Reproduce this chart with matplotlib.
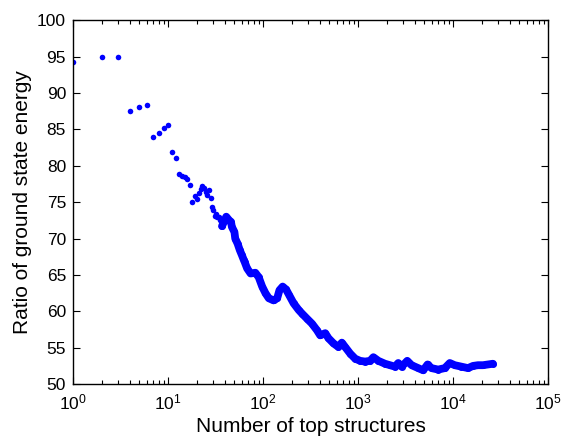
import matplotlib
matplotlib.use("Agg")
import matplotlib.pyplot as plt
from matplotlib.ticker import LogLocator, FixedLocator, NullFormatter

plt.rcParams['font.family'] = ['Liberation Sans', 'DejaVu Sans']

# sparse individual points (n = number of top structures)
n_sparse = [1, 2, 3, 4, 5, 6, 7, 8, 9, 10, 11, 12, 13, 14, 15, 16, 17, 18, 19,
            20, 21, 22, 23, 24, 25, 26, 27, 28, 29, 30, 31, 32, 33, 34, 35, 36]
r_sparse = [94.2, 95.0, 94.9, 87.5, 88.1, 88.3, 83.9, 84.5, 85.2, 85.6, 81.9,
            81.1, 78.8, 78.6, 78.4, 78.2, 77.3, 75.0, 75.9, 75.4, 76.3, 76.8,
            77.2, 77.0, 76.4, 76.0, 76.6, 75.5, 74.4, 73.9, 73.1, 73.4, 73.0,
            73.0, 72.5, 71.7]

# dense part of the curve
n_dense = [37, 41, 44, 46, 47, 50, 51, 54, 57, 60, 63, 64, 68, 74, 83, 90, 98,
           106, 115, 129, 141, 149, 161, 175, 189, 210, 237, 257, 290, 328, 370,
           400, 452, 489, 552, 623, 676, 732, 827, 933, 1052, 1187, 1340, 1452,
           1638, 1925, 2171, 2450, 2654, 2883, 3300, 3670, 4306, 4858, 5400,
           5946, 6978, 8202, 9254, 10440, 12280, 14390, 16240, 18330, 20690,
           23340, 26350]
r_dense = [71.7, 73.0, 72.5, 72.3, 71.6, 70.9, 70.0, 69.3, 68.4, 67.7, 67.0,
           66.8, 65.9, 65.2, 65.3, 64.7, 63.4, 62.5, 61.8, 61.5, 61.8, 62.9,
           63.4, 63.0, 62.2, 61.1, 60.2, 59.7, 59.0, 58.3, 57.4, 56.7, 57.0,
           56.3, 55.6, 55.1, 55.7, 55.1, 54.2, 53.5, 53.2, 53.1, 53.2, 53.7,
           53.2, 52.8, 52.6, 52.4, 52.9, 52.4, 53.2, 52.6, 52.2, 51.9, 52.7,
           52.2, 52.0, 52.2, 52.9, 52.6, 52.4, 52.2, 52.5, 52.6, 52.6, 52.7,
           52.8]

blue = '#0000ff'
fig = plt.figure(figsize=(5.62, 4.38), dpi=100)
ax = fig.add_axes([0.13, 0.123, 0.845, 0.831])

ax.plot(n_dense, r_dense, '-', color=blue, lw=5.6, solid_capstyle='round',
        solid_joinstyle='round')
ax.plot(n_dense, r_dense, 'o', color=blue, ms=5.0, mec='none')
ax.plot(n_sparse, r_sparse, 'o', color=blue, ms=4.0, mec='none')

ax.set_xscale('log')
ax.set_xlim(1, 1e5)
ax.set_ylim(50, 100)
ax.yaxis.set_major_locator(FixedLocator(list(range(50, 101, 5))))
ax.xaxis.set_major_locator(LogLocator(base=10, numticks=10))
ax.xaxis.set_minor_locator(LogLocator(base=10, subs=range(2, 10), numticks=20))
ax.xaxis.set_minor_formatter(NullFormatter())

ax.tick_params(which='both', direction='in', top=True, right=True,
               labelsize=12.5, width=0.8)
ax.tick_params(which='major', length=5)
ax.tick_params(which='minor', length=3)
ax.tick_params(axis='x', which='major', pad=6)
ax.tick_params(axis='y', which='major', pad=5)
for s in ax.spines.values():
    s.set_linewidth(1.0)

ax.set_xlabel('Number of top structures', fontsize=15, labelpad=3)
ax.set_ylabel('Ratio of ground state energy', fontsize=15, labelpad=4)

fig.savefig('out.png', dpi=100)
